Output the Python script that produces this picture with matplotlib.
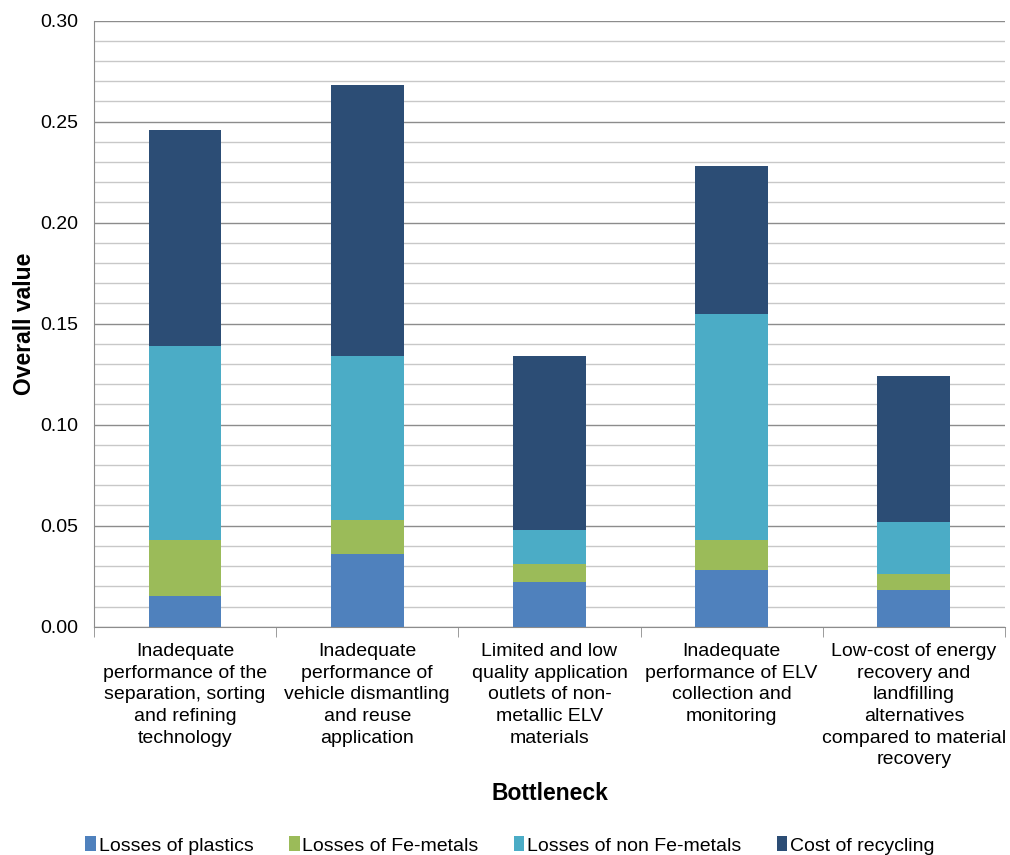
import matplotlib.pyplot as plt
import numpy as np
from matplotlib.ticker import MultipleLocator

plt.rcParams['font.family'] = ['Liberation Sans', 'DejaVu Sans']

# Bottleneck categories
categories = [
    "Inadequate\nperformance of the\nseparation, sorting\nand refining\ntechnology",
    "Inadequate\nperformance of\nvehicle dismantling\nand reuse\napplication",
    "Limited and low\nquality application\noutlets of non-\nmetallic ELV\nmaterials",
    "Inadequate\nperformance of ELV\ncollection and\nmonitoring",
    "Low-cost of energy\nrecovery and\nlandfilling\nalternatives\ncompared to material\nrecovery",
]

# Stacked segment values
plastics = [0.015, 0.036, 0.022, 0.028, 0.018]
fe_metals = [0.028, 0.017, 0.009, 0.015, 0.008]
non_fe_metals = [0.096, 0.081, 0.017, 0.112, 0.026]
cost_recycling = [0.107, 0.134, 0.086, 0.073, 0.072]

series = [
    ("Losses of plastics", plastics, "#4F81BD"),
    ("Losses of Fe-metals", fe_metals, "#9BBB59"),
    ("Losses of non Fe-metals", non_fe_metals, "#4BACC6"),
    ("Cost of recycling", cost_recycling, "#2C4D75"),
]

fig = plt.figure(figsize=(10.1, 8.55), dpi=100)
ax = fig.add_axes([0.093, 0.267, 0.902, 0.709])

x = np.arange(len(categories))
bottom = np.zeros(len(categories))
for name, vals, color in series:
    ax.bar(x, vals, 0.4, bottom=bottom, color=color, label=name, zorder=3)
    bottom += np.array(vals)

ax.set_xlim(-0.5, len(categories) - 0.5)
ax.set_ylim(0, 0.30)
ax.yaxis.set_major_locator(MultipleLocator(0.05))
ax.yaxis.set_minor_locator(MultipleLocator(0.01))
ax.yaxis.set_major_formatter(plt.FormatStrFormatter('%.2f'))
ax.grid(axis='y', which='minor', color='#C8C8C8', linewidth=1.0, zorder=0)
ax.grid(axis='y', which='major', color='#8C8C8C', linewidth=1.0, zorder=1)
ax.tick_params(axis='y', which='both', length=0, labelsize=14, pad=11)

# category labels centered, boundary ticks
ax.set_xticks(x)
ax.set_xticklabels(categories, fontsize=14, linespacing=1.35)
ax.tick_params(axis='x', which='major', length=0, pad=12)
ax.set_xticks(np.arange(-0.5, len(categories)), minor=True)
ax.tick_params(axis='x', which='minor', length=7, color='#8C8C8C')

for s in ['top', 'right']:
    ax.spines[s].set_visible(False)
for s in ['left', 'bottom']:
    ax.spines[s].set_color('#8C8C8C')

ax.set_ylabel("Overall value", fontsize=16.5, fontweight='bold', labelpad=3)
ax.set_xlabel("Bottleneck", fontsize=16.5, fontweight='bold', labelpad=10)

fig.legend(loc='lower center', bbox_to_anchor=(0.505, -0.02), ncol=4,
           frameon=False, fontsize=14, handlelength=0.55, handleheight=0.8,
           handletextpad=0.15, columnspacing=1.8)

fig.savefig("out.png", dpi=100)
